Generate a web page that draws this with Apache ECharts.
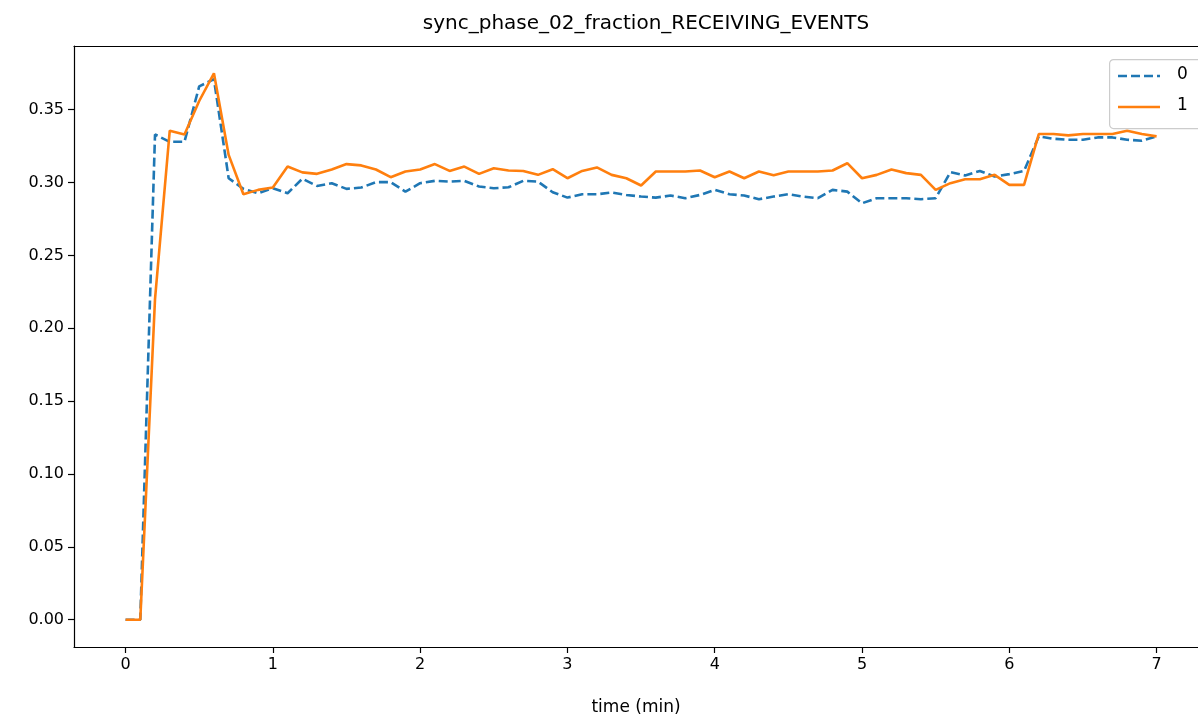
<!DOCTYPE html>
<html><head><meta charset="utf-8">
<script src="https://cdn.jsdelivr.net/npm/echarts@6/dist/echarts.min.js"></script>
<style>html,body{margin:0;padding:0;background:#fff}#c{width:1198px;height:721px}</style>
</head><body><div id="c"></div>
<script>
const times = [0,0.1,0.2,0.3,0.4,0.5,0.6,0.7,0.8,0.9,1.0,1.1,1.2,1.3,1.4,1.5,1.6,1.7,1.8,1.9,2.0,2.1,2.2,2.3,2.4,2.5,2.6,2.7,2.8,2.9,3.0,3.1,3.2,3.3,3.4,3.5,3.6,3.7,3.8,3.9,4.0,4.1,4.2,4.3,4.4,4.5,4.6,4.7,4.8,4.9,5.0,5.1,5.2,5.3,5.4,5.5,5.6,5.7,5.8,5.9,6.0,6.1,6.2,6.3,6.4,6.5,6.6,6.7,6.8,6.9,7.0];
const series0 = [0,0,0.333,0.328,0.328,0.366,0.371,0.303,0.2957,0.2927,0.2961,0.2927,0.3026,0.2977,0.2996,0.2957,0.2966,0.3003,0.3003,0.2938,0.2996,0.3012,0.3007,0.3012,0.2973,0.2961,0.2968,0.3012,0.3007,0.2934,0.2897,0.292,0.292,0.2932,0.2915,0.2904,0.2897,0.2911,0.2893,0.2915,0.295,0.292,0.2911,0.2886,0.2904,0.292,0.2904,0.2893,0.295,0.2938,0.2858,0.2893,0.2893,0.2893,0.2886,0.2893,0.3072,0.3049,0.308,0.3042,0.3058,0.308,0.3317,0.3301,0.3294,0.3294,0.331,0.331,0.3294,0.3287,0.3317];
const series1 = [0,0,0.22,0.3356,0.333,0.356,0.375,0.319,0.292,0.295,0.2966,0.311,0.307,0.306,0.309,0.3127,0.3118,0.309,0.3037,0.3076,0.309,0.3127,0.308,0.311,0.306,0.3099,0.3083,0.308,0.3053,0.3092,0.303,0.308,0.3104,0.3053,0.303,0.298,0.3076,0.3076,0.3076,0.3083,0.3037,0.3076,0.303,0.3076,0.305,0.3076,0.3076,0.3076,0.3083,0.3133,0.303,0.3053,0.309,0.3065,0.3053,0.295,0.2996,0.3023,0.3023,0.3053,0.2984,0.2984,0.3333,0.3333,0.3324,0.3333,0.3333,0.3333,0.3356,0.3333,0.3317];
const xTicks = [0,1,2,3,4,5,6,7];
const yTicks = [0,0.05,0.10,0.15,0.20,0.25,0.30,0.35];
const seriesNames = ['0','1'];
const colors = ['#1f77b4','#ff7f0e'];

const chart = echarts.init(document.getElementById('c'));
const font = 'DejaVu Sans';
const axisBase = {type:'value',min:-0.35,max:7.281,splitLine:{show:false}};
chart.setOption({
  animation:false,
  backgroundColor:'#fff',
  title:{text:'sync_phase_02_fraction_RECEIVING_EVENTS',left:641,top:9,textAlign:'center',
    textStyle:{fontFamily:font,fontSize:20,fontWeight:'normal',color:'#000'}},
  grid:{left:74,right:0,top:46,bottom:74,show:false,containLabel:false},
  xAxis:[
    Object.assign({},axisBase,{position:'bottom',name:'time (min)',nameLocation:'middle',nameGap:52,
      nameTextStyle:{fontFamily:font,fontSize:17,color:'#000'},
      axisLine:{show:true,onZero:false,lineStyle:{color:'#000',width:1.2}},
      axisTick:{show:true,length:6,customValues:xTicks,lineStyle:{color:'#000',width:1.2}},
      axisLabel:{customValues:xTicks,fontFamily:font,fontSize:16,color:'#000',margin:10,formatter:v=>String(v)}}),
    Object.assign({},axisBase,{position:'top',
      axisLine:{show:true,onZero:false,lineStyle:{color:'#000',width:1.2}},
      axisTick:{show:false},axisLabel:{show:false}})
  ],
  yAxis:{type:'value',min:-0.01875,max:0.39375,
    axisLine:{show:true,onZero:false,lineStyle:{color:'#000',width:1.2}},
    axisTick:{show:true,length:6,customValues:yTicks,lineStyle:{color:'#000',width:1.2}},
    axisLabel:{customValues:yTicks,fontFamily:font,fontSize:16,color:'#000',margin:10,formatter:v=>v.toFixed(2)},
    splitLine:{show:false}},
  graphic:[
    {type:'rect',left:1109,top:59,z:100,shape:{width:110,height:69,r:4},
      style:{fill:'rgba(255,255,255,0.85)',stroke:'#cccccc',lineWidth:1.2}},
    {type:'line',z:101,shape:{x1:1118,y1:76,x2:1160,y2:76},style:{stroke:colors[0],lineWidth:2.6,lineDash:[9,4]}},
    {type:'line',z:101,shape:{x1:1118,y1:107,x2:1160,y2:107},style:{stroke:colors[1],lineWidth:2.6}},
    {type:'text',z:101,left:1177,top:66,style:{text:seriesNames[0],font:'17px DejaVu Sans',fill:'#000'}},
    {type:'text',z:101,left:1177,top:97,style:{text:seriesNames[1],font:'17px DejaVu Sans',fill:'#000'}}
  ],
  series:[
    {name:seriesNames[0],type:'line',xAxisIndex:0,data:times.map((t,i)=>[t,series0[i]]),showSymbol:false,symbol:'none',
      lineStyle:{color:colors[0],width:2.6,type:[9,4]},itemStyle:{color:colors[0]}},
    {name:seriesNames[1],type:'line',xAxisIndex:0,data:times.map((t,i)=>[t,series1[i]]),showSymbol:false,symbol:'none',
      lineStyle:{color:colors[1],width:2.6},itemStyle:{color:colors[1]}}
  ]
});
</script></body></html>
